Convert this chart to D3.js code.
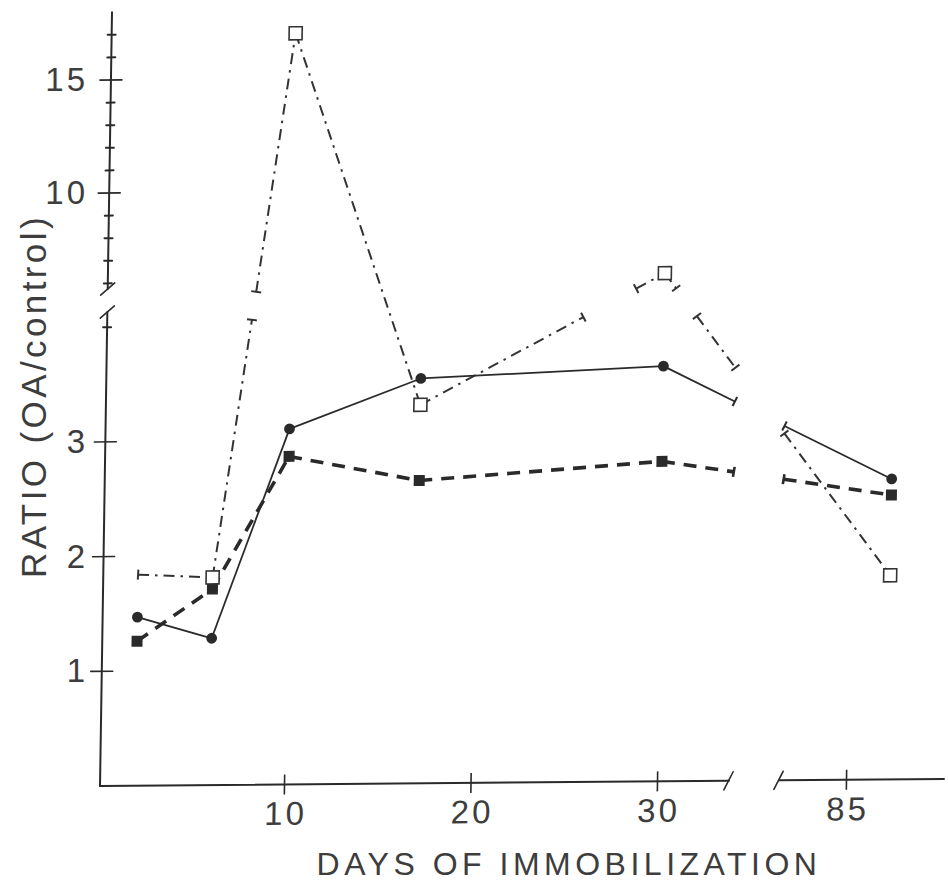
<!DOCTYPE html>
<html>
<head>
<meta charset="utf-8">
<script src="https://cdn.jsdelivr.net/npm/d3@7"></script>
<style>
  html, body { margin: 0; padding: 0; background: #fff; }
  svg { display: block; font-family: "Liberation Sans", Arial, sans-serif; }
</style>
</head>
<body>
<svg id="chart"></svg>
<script>
// Ratio OA/control vs days of immobilization (broken y and x axes)

const days = [2, 6, 10, 17, 30, 90];
const circleSeries = [1.47, 1.28, 3.10, 3.53, 3.62, 2.62];   // filled circles, solid
const filledSqSeries = [1.26, 1.71, 2.86, 2.64, 2.79, 2.48]; // filled squares, dashed
const openSqSeries = [1.84, 1.81, 17.0, 3.30, 6.25, 1.78];   // open squares, dash-dot

const xTicks = [10, 20, 30, 85];
const xTickLabels = ["10", "20", "30", "85"];
const yMajorTicks = [1, 2, 3, 10, 15];
const yMajorLabels = ["1", "2", "3", "10", "15"];
const yMinorTicks = [4, 6, 7, 8, 9, 11, 12, 13, 14, 16, 17];

(function () {
  const W = 948, H = 884;
  const INK = "#2a2a2a";
  const TEXT = "#3d3d3d";
  const FONT = "Liberation Sans, Arial, sans-serif";

  // axis breaks (pixels)
  const GAP_X = [729, 779];
  const GAP_Y = [293, 321];
  const X0 = 100, Y0 = 786;

  const svg = d3.select("#chart").attr("width", W).attr("height", H);
  svg.append("rect").attr("width", W).attr("height", H).attr("fill", "#fff");

  // piecewise scales: each axis has a break
  const x = d3.scaleLinear().domain([0, 30, 85, 90]).range([97.5, 657, 846, 887]);
  const y = d3.scaleLinear().domain([0, 4.1, 6, 18]).range([Y0, 315.7, 283.4, 12.2]);

  // the scanned figure is slightly sheared
  const plot = svg.append("g")
    .attr("transform", `translate(${X0},${Y0}) matrix(1,-0.0083,-0.0155,1,0,0) translate(${-X0},${-Y0})`);

  // ---- Axes ----
  const axisLine = (x1, y1, x2, y2, w) => plot.append("line")
    .attr("x1", x1).attr("y1", y1).attr("x2", x2).attr("y2", y2)
    .attr("stroke", INK).attr("stroke-width", w || 2).attr("stroke-linecap", "round");

  // y axis, two pieces
  axisLine(X0, y(18), X0, 289);
  axisLine(X0, 312, X0, Y0);
  axisLine(X0 - 7, 295, X0 + 7, 283, 1.6);
  axisLine(X0 - 7, 318, X0 + 7, 306, 1.6);

  // x axis, two pieces
  axisLine(X0, Y0, GAP_X[0], Y0);
  axisLine(GAP_X[1], Y0, 944, Y0);
  axisLine(GAP_X[0] - 5, Y0 + 9, GAP_X[0] + 4, Y0 - 9, 1.6);
  axisLine(GAP_X[1] - 5, Y0 + 9, GAP_X[1] + 4, Y0 - 9, 1.6);

  yMajorTicks.forEach(v => axisLine(X0 - 11, y(v), X0 + 11, y(v), 1.6));
  yMinorTicks.forEach(v => axisLine(X0 - 4, y(v), X0 + 4, y(v), 2));

  const xAxis = plot.append("g")
    .attr("transform", `translate(0,${Y0})`)
    .call(d3.axisBottom(x).tickValues(xTicks)
      .tickFormat((d, i) => xTickLabels[i])
      .tickSize(10).tickPadding(7));
  xAxis.select(".domain").remove();
  xAxis.selectAll(".tick line")
    .attr("y1", -10).attr("stroke", INK).attr("stroke-width", 1.6);
  xAxis.selectAll(".tick text")
    .attr("font-size", 33).attr("letter-spacing", 3).attr("dx", 1.5)
    .attr("fill", TEXT).attr("font-family", FONT);

  // y tick labels (typeset upright, not sheared)
  const yLab = svg.append("g")
    .attr("transform", `translate(${X0},0)`)
    .call(d3.axisLeft(y).tickValues(yMajorTicks)
      .tickFormat((d, i) => yMajorLabels[i])
      .tickSize(0).tickPadding(12));
  yLab.select(".domain").remove();
  yLab.selectAll(".tick text")
    .attr("font-size", 33).attr("letter-spacing", 3)
    .attr("fill", TEXT).attr("font-family", FONT);

  // ---- Titles ----
  svg.append("text")
    .attr("transform", "translate(46,396) rotate(-90)")
    .attr("text-anchor", "middle")
    .attr("font-size", 35).attr("letter-spacing", 3.4)
    .attr("fill", TEXT)
    .text("RATIO (OA/control)");

  svg.append("text")
    .attr("x", 569).attr("y", 875)
    .attr("text-anchor", "middle")
    .attr("font-size", 32).attr("letter-spacing", 4.5)
    .attr("fill", TEXT)
    .text("DAYS OF IMMOBILIZATION");

  // ---- Lines, broken where they pass an axis break ----
  function span(a, b, lo, hi) {
    if (a === b) return (a >= lo && a <= hi) ? [0, 1] : null;
    let t0 = (lo - a) / (b - a), t1 = (hi - a) / (b - a);
    if (t0 > t1) [t0, t1] = [t1, t0];
    t0 = Math.max(0, t0); t1 = Math.min(1, t1);
    return t0 < t1 ? [t0, t1] : null;
  }

  function visiblePieces(p0, p1, breakY) {
    const cuts = [];
    const v = span(p0[0], p1[0], GAP_X[0], GAP_X[1]);
    if (v) cuts.push(v);
    if (breakY) {
      const h = span(p0[1], p1[1], GAP_Y[0], GAP_Y[1]);
      if (h) cuts.push(h);
    }
    cuts.sort((a, b) => a[0] - b[0]);
    const out = [];
    let t = 0;
    cuts.forEach(c => { if (c[0] > t) out.push([t, c[0]]); t = Math.max(t, c[1]); });
    if (t < 1) out.push([t, 1]);
    return out;
  }

  function cap(p, dir, color, w) {
    const len = Math.hypot(dir[0], dir[1]);
    const nx = -dir[1] / len * 5, ny = dir[0] / len * 5;
    plot.append("line")
      .attr("x1", p[0] - nx).attr("y1", p[1] - ny)
      .attr("x2", p[0] + nx).attr("y2", p[1] + ny)
      .attr("stroke", color).attr("stroke-width", w);
  }

  function drawSeries(values, style, unbrokenSegs) {
    const pts = days.map((d, i) => [x(d), y(values[i])]);
    for (let i = 0; i < pts.length - 1; i++) {
      const p0 = pts[i], p1 = pts[i + 1];
      const dir = [p1[0] - p0[0], p1[1] - p0[1]];
      const at = t => [p0[0] + dir[0] * t, p0[1] + dir[1] * t];
      visiblePieces(p0, p1, !unbrokenSegs.includes(i)).forEach(([ta, tb]) => {
        const a = at(ta), b = at(tb);
        plot.append("path")
          .attr("d", d3.line()([a, b]))
          .attr("fill", "none").attr("stroke", style.color)
          .attr("stroke-width", style.width)
          .attr("stroke-dasharray", style.dash)
          .attr("stroke-linecap", "butt");
        if (ta > 0) cap(a, dir, style.color, style.capW);
        if (tb < 1) cap(b, dir, style.color, style.capW);
      });
    }
    return pts;
  }

  const ptsOpen = drawSeries(openSqSeries,
    { color: "#333", width: 2, dash: "11 6 2.5 6", capW: 2 }, [2]);
  const ptsFilled = drawSeries(filledSqSeries,
    { color: INK, width: 3.6, dash: "13 9", capW: 2.6 }, []);
  const ptsCircle = drawSeries(circleSeries,
    { color: INK, width: 1.8, dash: null, capW: 2 }, []);

  // ---- Markers ----
  plot.selectAll("circle.m").data(ptsCircle).join("circle")
    .attr("cx", d => d[0]).attr("cy", d => d[1]).attr("r", 5.4)
    .attr("fill", INK);

  plot.selectAll("rect.fs").data(ptsFilled).join("rect")
    .attr("x", d => d[0] - 5.5).attr("y", d => d[1] - 5.5)
    .attr("width", 11).attr("height", 11)
    .attr("fill", INK);

  // first open-square point shows only a capped end
  cap(ptsOpen[0], [ptsOpen[1][0] - ptsOpen[0][0], ptsOpen[1][1] - ptsOpen[0][1]], "#333", 2);
  plot.selectAll("rect.os").data(ptsOpen.slice(1)).join("rect")
    .attr("x", d => d[0] - 6.5).attr("y", d => d[1] - 6.5)
    .attr("width", 13).attr("height", 13)
    .attr("fill", "#fff").attr("stroke", "#333").attr("stroke-width", 1.6);
})();
</script>
</body>
</html>
